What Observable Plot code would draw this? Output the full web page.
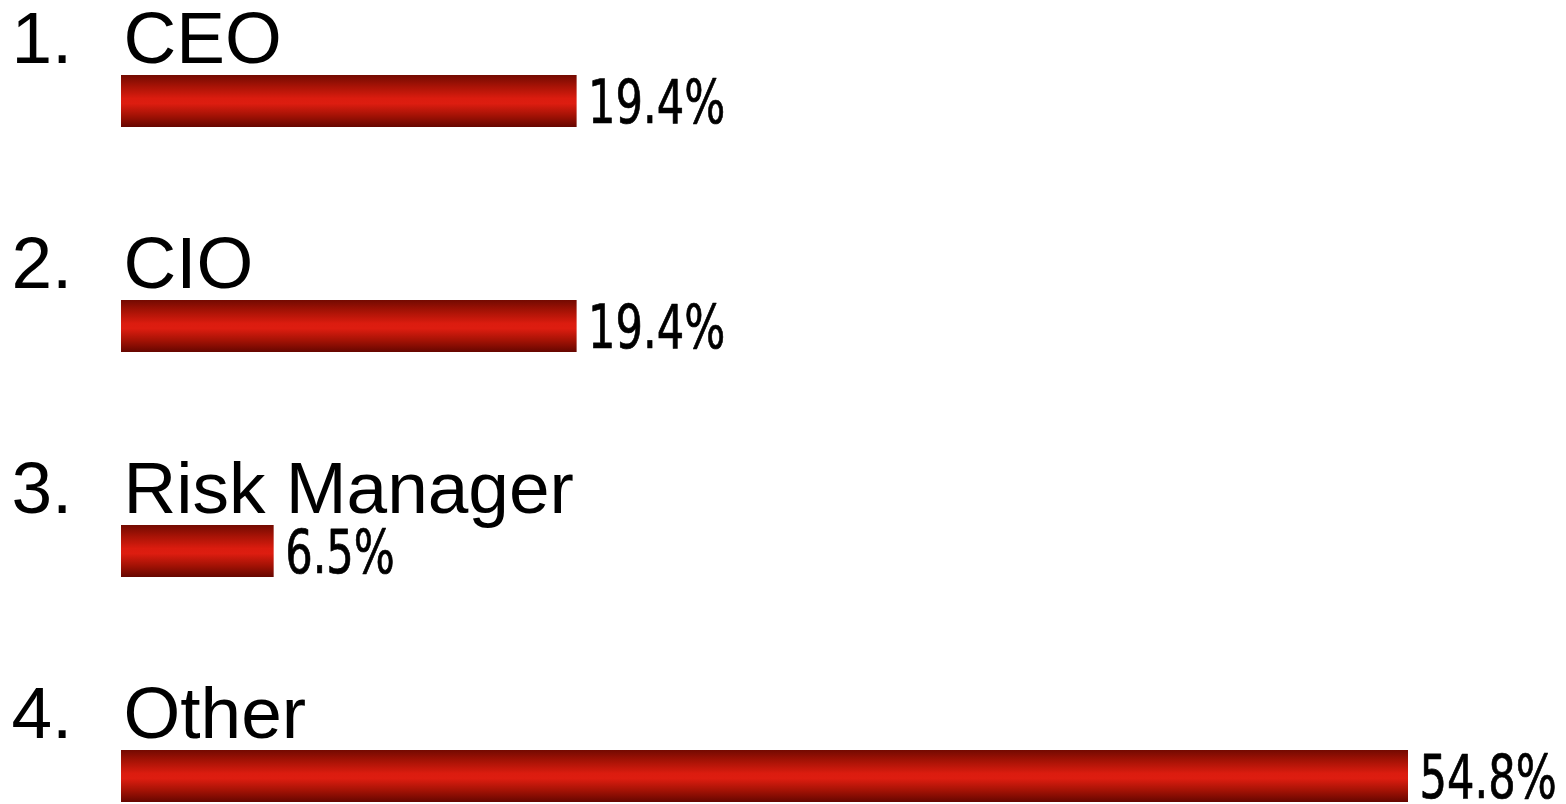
<!DOCTYPE html>
<html>
<head>
<meta charset="utf-8">
<script src="https://cdn.jsdelivr.net/npm/d3@7"></script>
<script src="https://cdn.jsdelivr.net/npm/@observablehq/plot@0.6"></script>
<style>
  html, body { margin: 0; padding: 0; background: #fff; }
  #chart svg { display: block; }
</style>
</head>
<body>
<div id="chart"></div>
<script>
const ranks = ["1.", "2.", "3.", "4."];
const roles = ["CEO", "CIO", "Risk Manager", "Other"];
const shares = [19.4, 19.4, 6.5, 54.8];
const valueLabels = ["19.4%", "19.4%", "6.5%", "54.8%"];

const data = roles.map((r, i) => ({rank: ranks[i], role: r, share: shares[i], label: valueLabels[i]}));

const catFont = "'Liberation Sans', Arial, sans-serif";
const valFont = "'Liberation Sans Narrow', 'Arial Narrow', 'DejaVu Sans Condensed', sans-serif";

const svg = Plot.plot({
  width: 1566,
  height: 804,
  marginLeft: 121,
  marginRight: 158,
  marginTop: 75,
  marginBottom: 0,
  x: {domain: [0, 54.8], axis: null},
  y: {domain: roles, axis: null, paddingInner: 0.77, paddingOuter: 0, align: 0},
  style: {background: "#fff", overflow: "visible"},
  marks: [
    Plot.barX(data, {x: "share", y: "role", fill: "url(#barGrad)"}),
    Plot.text(data, {x: 0, y: "role", text: "rank", lineAnchor: "bottom", textAnchor: "start", dx: -110, dy: -39, fontSize: 73, fontFamily: catFont, fill: "#000"}),
    Plot.text(data, {x: 0, y: "role", text: "role", lineAnchor: "bottom", textAnchor: "start", dx: 2, dy: -39, fontSize: 73, fontFamily: catFont, fill: "#000"}),
    Plot.text(data, {x: "share", y: "role", text: "label", lineAnchor: "bottom", textAnchor: "start", dx: 11, dy: 21, fontSize: 60, fontFamily: valFont, fill: "#000", stroke: "#000", strokeWidth: 0.7, className: "val"})
  ]
});

const defs = d3.select(svg).insert("defs", ":first-child");
const g = defs.append("linearGradient").attr("id", "barGrad").attr("x1", 0).attr("y1", 0).attr("x2", 0).attr("y2", 1);
[["0%", "#730a01"], ["22%", "#a81306"], ["45%", "#db1c0f"], ["55%", "#dd1d10"], ["78%", "#a31205"], ["100%", "#660600"]]
  .forEach(([o, c]) => g.append("stop").attr("offset", o).attr("stop-color", c));

document.getElementById("chart").appendChild(svg);

// condense the value labels horizontally to mimic a narrow typeface
d3.select(svg).selectAll(".val text").each(function () {
  const w = this.getComputedTextLength();
  this.setAttribute("textLength", (w * 0.8).toFixed(1));
  this.setAttribute("lengthAdjust", "spacingAndGlyphs");
});
</script>
</body>
</html>
